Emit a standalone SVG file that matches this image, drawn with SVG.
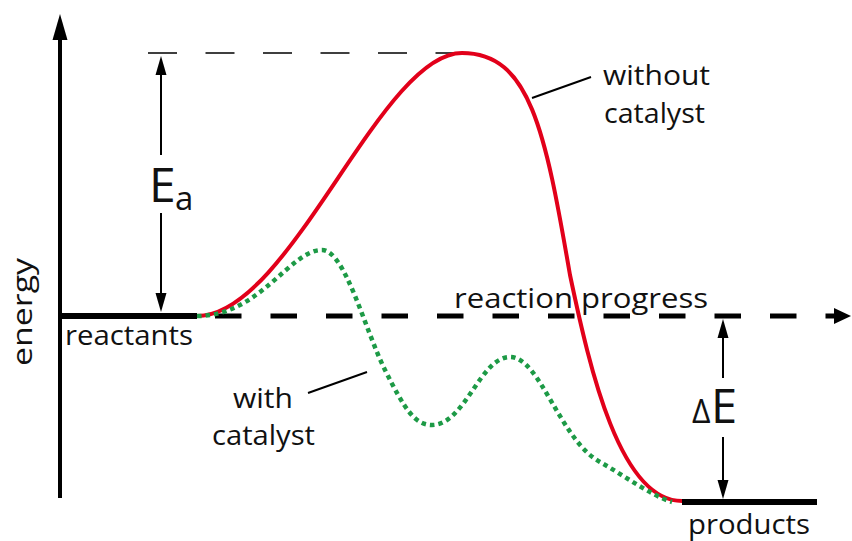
<svg xmlns="http://www.w3.org/2000/svg" width="852" height="541" viewBox="0 0 852 541">
<style>
  .lbl { font-family: "Open Sans", "Liberation Sans", sans-serif; fill: #111; }
  .thin { stroke: #000; stroke-width: 2; fill: none; }
  .lead { stroke: #000; stroke-width: 2; fill: none; }
  .red { stroke: #e2001a; stroke-width: 4; fill: none; stroke-linecap: round; }
  .green { stroke: #1d9a46; stroke-width: 4.5; fill: none; stroke-dasharray: 4.5 4; }
  .head { fill: #000; }
</style>
<rect width="852" height="541" fill="#fff"/>

<g id="axis">
  <line x1="60" y1="36" x2="60" y2="498" stroke="#000" stroke-width="4"/>
  <polygon class="head" points="60,14 52.5,40 67.5,40"/>
  <text class="lbl" font-size="28" transform="translate(32,366) rotate(-90)" textLength="108" lengthAdjust="spacingAndGlyphs">energy</text>
</g>

<g id="connectors">
  <line x1="148" y1="53" x2="460" y2="53" stroke="#000" stroke-width="1.5" stroke-dasharray="29 28.5"/>
  <line x1="215" y1="316" x2="836" y2="316" stroke="#000" stroke-width="5" stroke-dasharray="26.5 29"/>
  <polygon class="head" points="851,316 834,308 834,324"/>
  <line class="thin" x1="161" y1="72" x2="161" y2="155"/>
  <polygon class="head" points="161,56 155.5,75 166.5,75"/>
  <line class="thin" x1="161" y1="213" x2="161" y2="295"/>
  <polygon class="head" points="161,312 155.5,293 166.5,293"/>
  <line class="thin" x1="723" y1="335" x2="723" y2="378"/>
  <polygon class="head" points="723,319 717.5,338 728.5,338"/>
  <line class="thin" x1="723" y1="437" x2="723" y2="482"/>
  <polygon class="head" points="723,499 717.5,480 728.5,480"/>
  <line class="lead" x1="532" y1="98" x2="591" y2="77"/>
  <line class="lead" x1="308" y1="393" x2="367" y2="372"/>
</g>

<g id="curve-without-catalyst">
  <path class="red" d="M197,316 C290,316 380,53 462,53 C530,53 545,130 570,275 C590,370 620,501 682,501"/>
</g>

<g id="curve-with-catalyst">
  <path class="green" d="M197,316 C260,316 290,250 322,250 C345,250 365,330 385,370 C405,410 415,425 432,425 C465,425 480,357 510,357 C540,357 560,440 600,462 C625,476 650,495 672,502"/>
</g>

<g id="reactants">
  <line x1="58" y1="316" x2="197" y2="316" stroke="#000" stroke-width="6"/>
  <text class="lbl" x="65" y="345" font-size="28" textLength="128" lengthAdjust="spacingAndGlyphs">reactants</text>
</g>

<g id="products">
  <line x1="682" y1="502" x2="817" y2="502" stroke="#000" stroke-width="6"/>
  <text class="lbl" x="688" y="534" font-size="28" textLength="122" lengthAdjust="spacingAndGlyphs">products</text>
</g>

<g id="label-Ea">
  <text class="lbl" x="149" y="202" font-size="48">E</text>
  <text class="lbl" x="175" y="210" font-size="33">a</text>
</g>

<g id="label-dE">
  <text class="lbl" x="692" y="423" font-size="32">Δ</text>
  <text class="lbl" x="711" y="423" font-size="47">E</text>
</g>

<g id="label-progress">
  <text class="lbl" x="454" y="308" font-size="28" textLength="254" lengthAdjust="spacingAndGlyphs">reaction progress</text>
</g>

<g id="label-without">
  <text class="lbl" x="603" y="85" font-size="28" textLength="107" lengthAdjust="spacingAndGlyphs">without</text>
  <text class="lbl" x="604" y="123" font-size="28" textLength="101" lengthAdjust="spacingAndGlyphs">catalyst</text>
</g>

<g id="label-with">
  <text class="lbl" x="233" y="408" font-size="28" textLength="60" lengthAdjust="spacingAndGlyphs">with</text>
  <text class="lbl" x="212" y="445" font-size="28" textLength="103" lengthAdjust="spacingAndGlyphs">catalyst</text>
</g>
</svg>
